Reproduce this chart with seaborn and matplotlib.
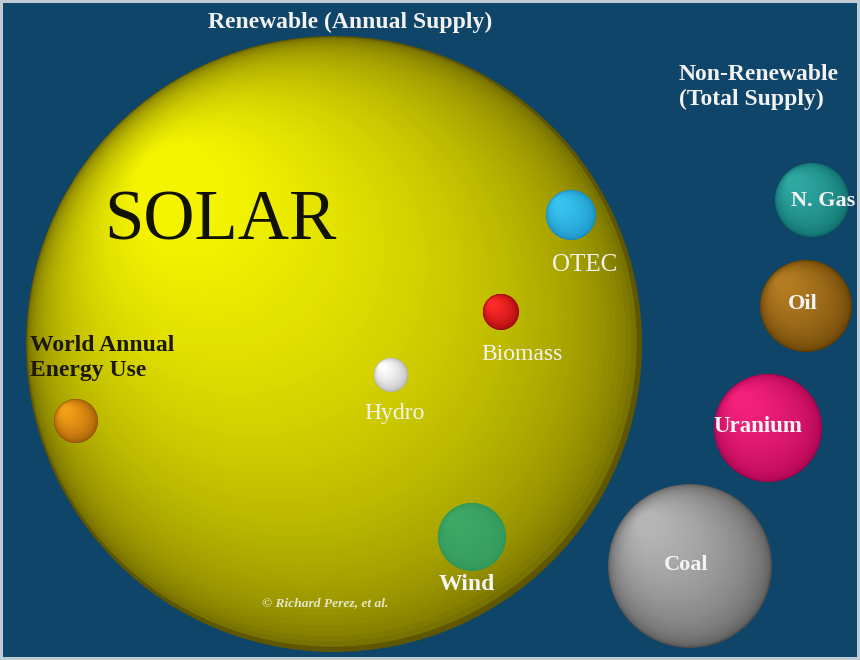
import numpy as np
import pandas as pd
import seaborn as sns
import matplotlib.pyplot as plt
from matplotlib.colors import to_rgb, to_hex

# bubbles: position (px in the original chart) and radius
names = ['SOLAR', 'World', 'OTEC', 'Biomass', 'Hydro', 'Wind', 'N. Gas', 'Oil', 'Uranium', 'Coal']
cx = [334, 76, 571, 501, 391, 472, 812, 806, 768, 690]
cy = [344, 421, 215, 312, 375, 537, 200, 306, 428, 566]
radius = [308, 22, 25, 18, 17, 34, 37, 46, 54, 82]
light = ['#f4f400', '#f4a018', '#38c4f0', '#ff2a2a', '#ffffff', '#3ea866',
         '#2fa8a2', '#b47c22', '#f4207c', '#b4b4b4']
dark = ['#5e5600', '#8a4800', '#1584b8', '#8a0000', '#a8a8a8', '#2e9458',
        '#0a6462', '#5a3800', '#a0004a', '#4e4e4e']

sns.set_theme(style='white')
plt.rcParams['font.family'] = ['Liberation Serif', 'DejaVu Serif']

# build shaded layers for every sphere (highlight toward upper left)
n_layers = 80
rows = []
for i, name in enumerate(names):
    lo, hi = np.array(to_rgb(dark[i])), np.array(to_rgb(light[i]))
    for k in range(n_layers):
        t = k / (n_layers - 1)
        r = radius[i] * (1 - 0.85 * t)
        off = 0.5 * radius[i] * t
        col = lo + (hi - lo) * t ** 0.4
        rows.append(dict(x=cx[i] - off, y=cy[i] - off, s=(2 * r * 0.72) ** 2,
                         key=f'{name}_{k}', color=to_hex(np.clip(col, 0, 1))))
df = pd.DataFrame(rows)
palette = dict(zip(df['key'], df['color']))

fig = plt.figure(figsize=(8.6, 6.6), dpi=100)
fig.patch.set_facecolor('#0f4569')
ax = fig.add_axes([0, 0, 1, 1])
ax.set_facecolor('#0f4569')

sns.scatterplot(data=df, x='x', y='y', hue='key', palette=palette, s=df['s'].values,
                linewidth=0, legend=False, ax=ax)

ax.set_xlim(0, 860)
ax.set_ylim(660, 0)
ax.set_axis_off()

ax.text(350, 22, 'Renewable (Annual Supply)', color='#f2f2f2', fontsize=17,
        fontweight='bold', ha='center', va='center')
ax.text(679, 87, 'Non-Renewable\n(Total Supply)', color='#f2f2f2', fontsize=17,
        fontweight='bold', ha='left', va='center', linespacing=1.2)
ax.text(220, 222, 'SOLAR', color='#111100', fontsize=51, ha='center', va='center')
ax.text(30, 358, 'World Annual\nEnergy Use', color='#1c1800', fontsize=17,
        fontweight='bold', ha='left', va='center', linespacing=1.2)

labels = [('OTEC', 585, 265, 'normal', 18), ('Biomass', 522, 354, 'normal', 17),
          ('Hydro', 395, 413, 'normal', 17), ('Wind', 467, 584, 'bold', 17),
          ('N. Gas', 823, 201, 'bold', 16), ('Oil', 803, 304, 'bold', 16),
          ('Uranium', 758, 426, 'bold', 16.5), ('Coal', 686, 565, 'bold', 16)]
for txt, tx, ty, w, fs in labels:
    ax.text(tx, ty, txt, color='#f4f4f4', fontsize=fs, fontweight=w,
            ha='center', va='center')

ax.text(325, 603, '\u00a9 Richard Perez, et al.', color='#e8e8c8', fontsize=9.7,
        fontstyle='italic', fontweight='bold', ha='center', va='center')

fig.patch.set_edgecolor('#c0ccd4')
fig.patch.set_linewidth(3)
fig.savefig('out.png', dpi=100, facecolor=fig.get_facecolor(), edgecolor=fig.get_edgecolor())
